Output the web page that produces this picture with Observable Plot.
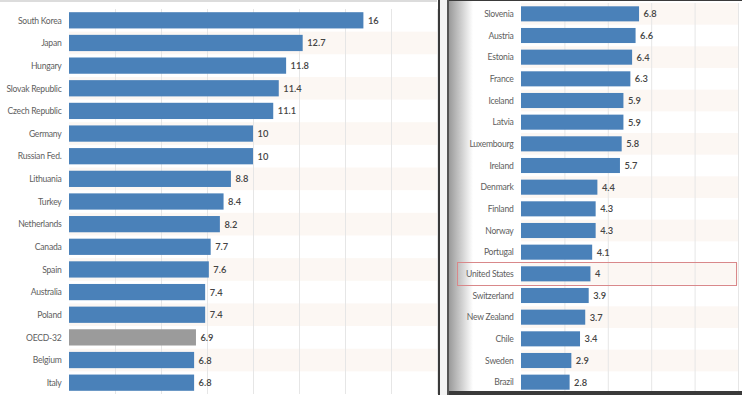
<!DOCTYPE html>
<html>
<head>
<meta charset="utf-8">
<script src="https://cdn.jsdelivr.net/npm/d3@7"></script>
<script src="https://cdn.jsdelivr.net/npm/@observablehq/plot@0.6"></script>
<style>
  html, body { margin: 0; padding: 0; background: #fff; }
  #wrap { position: relative; width: 742px; height: 395px; overflow: hidden; background: #fff; }
  #left, #right { position: absolute; top: 0; }
  #left svg, #right svg { display: block; }
  #left { left: 0; }
  #right { left: 449px; }
  .deco { position: absolute; pointer-events: none; }
</style>
</head>
<body>
<div id="wrap">
  <div id="left"></div>
  <div id="right"></div>
</div>
<script>
const leftCountries = ["South Korea","Japan","Hungary","Slovak Republic","Czech Republic","Germany","Russian Fed.","Lithuania","Turkey","Netherlands","Canada","Spain","Australia","Poland","OECD-32","Belgium","Italy"];
const leftValues = [16, 12.7, 11.8, 11.4, 11.1, 10, 10, 8.8, 8.4, 8.2, 7.7, 7.6, 7.4, 7.4, 6.9, 6.8, 6.8];

const rightCountries = ["Slovenia","Austria","Estonia","France","Iceland","Latvia","Luxembourg","Ireland","Denmark","Finland","Norway","Portugal","United States","Switzerland","New Zealand","Chile","Sweden","Brazil"];
const rightValues = [6.8, 6.6, 6.4, 6.3, 5.9, 5.9, 5.8, 5.7, 4.4, 4.3, 4.3, 4.1, 4, 3.9, 3.7, 3.4, 2.9, 2.8];

const averageLabel = "OECD-32";
const highlightLabel = "United States";

const BLUE = "#4a81b9";
const GRAY = "#9b9b9b";
const BAND = "#fcf7f3";
const GRID = "#e6e6e6";

// pick a narrow font if one is installed
function hasFont(name) {
  const c = document.createElement("canvas").getContext("2d");
  const s = "Slovak Republic mmmwwwiii";
  c.font = "20px monospace";
  const a = c.measureText(s).width;
  c.font = `20px '${name}', monospace`;
  const b = c.measureText(s).width;
  return Math.abs(a - b) > 0.5;
}
const narrow = hasFont("Liberation Sans Narrow");
const LABEL_FONT = narrow ? "'Liberation Sans Narrow', sans-serif" : "Lato, sans-serif";
const LABEL_SIZE = narrow ? 9.8 : 8.6;
const LABEL_SPACING = narrow ? "0px" : "-0.25px";
const VALUE_FONT = "Lato, sans-serif";

function panel(countries, values, opts) {
  const data = countries.map((c, i) => ({country: c, value: values[i], i}));
  const bands = data.filter(d => d.i % 2 === opts.bandParity);
  const ticks = d3.range(opts.gridStep, opts.max + 0.001, opts.gridStep);
  return Plot.plot({
    width: opts.width,
    height: 395,
    marginLeft: opts.marginLeft,
    marginRight: opts.marginRight,
    marginTop: opts.marginTop,
    marginBottom: opts.marginBottom,
    style: {fontFamily: VALUE_FONT, fontSize: "9.5px", background: "transparent", overflow: "visible"},
    x: {domain: [0, opts.max], axis: null},
    y: {domain: countries, padding: 0, round: false, axis: null},
    marks: [
      Plot.barX(bands, {y: "country", x1: () => 0, x2: () => opts.max, fill: BAND}),
      Plot.ruleX(ticks, {stroke: GRID, strokeWidth: 1}),
      Plot.barX(data, {
        y: "country", x: "value",
        fill: d => d.country === averageLabel ? GRAY : BLUE,
        insetTop: opts.inset, insetBottom: opts.inset
      }),
      Plot.text(data, {
        y: "country", x: "value", text: d => String(d.value),
        dx: 4, textAnchor: "start", fill: "#444", fontWeight: 600, fontSize: 9.3
      }),
      Plot.axisY({
        tickSize: 0, tickPadding: 8, color: "#5e5e5e", fontSize: LABEL_SIZE,
        fontFamily: LABEL_FONT, label: null
      })
    ]
  });
}

const leftChart = panel(leftCountries, leftValues, {
  width: 437, marginLeft: 69, marginRight: 0, marginTop: 9, marginBottom: 1,
  max: 20, gridStep: 2.5, inset: 3.2, bandParity: 1
});
document.getElementById("left").appendChild(leftChart);

const rightChart = panel(rightCountries, rightValues, {
  width: 293, marginLeft: 72, marginRight: 4, marginTop: 3, marginBottom: 2,
  max: 12.5, gridStep: 2.5, inset: 3.3, bandParity: 0
});
document.getElementById("right").appendChild(rightChart);

// letter spacing for the fallback label font
document.querySelectorAll("#wrap svg g[aria-label='y-axis tick label'] text").forEach(t => {
  t.style.letterSpacing = LABEL_SPACING;
});

const wrap = document.getElementById("wrap");
function deco(style) {
  const d = document.createElement("div");
  d.className = "deco";
  Object.assign(d.style, style);
  wrap.appendChild(d);
  return d;
}
// left panel top border
deco({left: "0px", top: "0px", width: "437px", height: "2px", background: "#dcdcdc"});
// separator between the two screenshots
deco({left: "438px", top: "0px", width: "2px", height: "395px", background: "#3a3a3a"});
deco({left: "440px", top: "0px", width: "7px", height: "395px", background: "#f4f4f4"});
deco({left: "447px", top: "0px", width: "2px", height: "395px", background: "#555"});
// right panel shading, top and bottom borders
deco({left: "449px", top: "0px", width: "24px", height: "391px", background: "linear-gradient(to right, rgba(120,120,120,0.75), rgba(255,255,255,0))"});
deco({left: "449px", top: "0px", width: "293px", height: "1px", background: "#3a3a3a"});
deco({left: "449px", top: "391px", width: "293px", height: "4px", background: "#3a3a3a"});

// highlight box around the United States row, positioned via the chart's y scale
const ys = rightChart.scale("y");
const xs = rightChart.scale("x");
const yTop = ys.apply(highlightLabel);
const bw = ys.bandwidth;
deco({
  left: (449 + 8) + "px",
  top: (yTop - 1.5) + "px",
  width: (449 + xs.apply(12.5) - (449 + 8) - 1) + "px",
  height: (bw + 3) + "px",
  border: "1px solid #d9888a",
  boxSizing: "border-box"
});
</script>
</body>
</html>
